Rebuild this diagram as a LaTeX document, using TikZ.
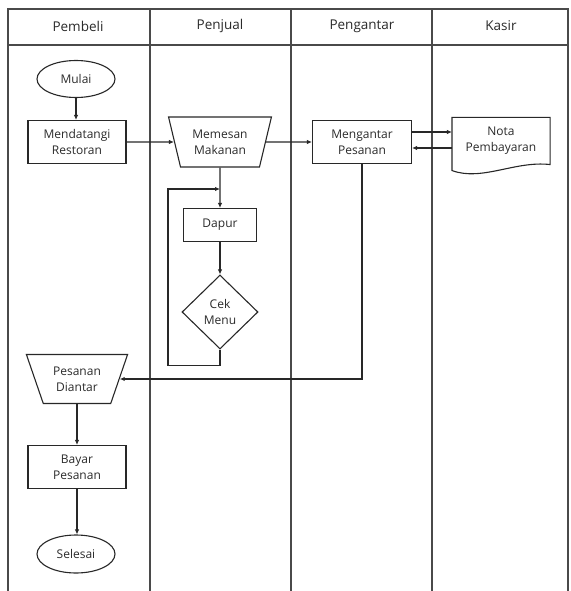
\documentclass[tikz,border=0pt]{standalone}
\usepackage{fontspec}
\setmainfont{Open Sans}
\usetikzlibrary{shapes.geometric,arrows.meta}
\definecolor{linec}{HTML}{282828}
\definecolor{lanec}{HTML}{4A4A4A}
\definecolor{textc}{HTML}{2A2A2A}
\begin{document}
\begin{tikzpicture}[x=1pt,y=-1pt,
  lane/.style={draw=lanec,line width=1.4pt},
  head/.style={font=\fontsize{13.5}{16}\selectfont,text=textc},
  box/.style={draw=linec,line width=1.1pt,align=center,text=textc,
    font=\fontsize{12}{16}\selectfont,inner sep=1pt},
  proc/.style={box,rectangle,minimum width=98pt,minimum height=43pt},
  term/.style={box,ellipse,minimum width=78pt,minimum height=37pt},
  manual/.style={box,trapezium,shape border rotate=180,trapezium stretches=true},
  arr/.style={draw=linec,line width=1.1pt,-{Latex[length=5pt,width=4.5pt]}}]
\useasboundingbox (0,0) rectangle (570,591);
% swimlanes
\draw[lane] (8,591) -- (8,9) -- (568,9) -- (568,591);
\draw[lane] (8,45) -- (568,45);
\draw[lane] (150,9) -- (150,591);
\draw[lane] (291,9) -- (291,591);
\draw[lane] (432,9) -- (432,591);
\node[head] (h1) at (78,26) {Pembeli};
\node[head] (h2) at (220,26) {Penjual};
\node[head] (h3) at (362,26) {Pengantar};
\node[head] (h4) at (501,26) {Kasir};
% nodes
\node[term] (mulai) at (76,79) {Mulai};
\node[proc] (mend) at (77,142) {Mendatangi\\Restoran};
\node[manual,minimum width=103pt,minimum height=50pt,trapezium left angle=72,trapezium right angle=72] (mem) at (220,142) {Memesan\\Makanan};
\node[proc,minimum width=99pt] (meng) at (362,142) {Mengantar\\Pesanan};
\node[box,draw=none,rectangle,minimum width=97pt,minimum height=46pt] (nota) at (501,141) {Nota\\Pembayaran};
\draw[linec,line width=1.1pt] (nota.north west) -- (nota.north east) -- (nota.south east)
  .. controls ([xshift=-35pt,yshift=4pt]nota.south east) and ([xshift=30pt,yshift=-17pt]nota.south west)
  .. ([yshift=-6pt]nota.south west) -- cycle;
\node[proc,minimum width=73pt,minimum height=33pt] (dapur) at (220,225) {Dapur};
\node[box,diamond,minimum width=76pt,minimum height=74pt,inner sep=0pt] (cek) at (220,312) {Cek\\Menu};
\node[manual,minimum width=102pt,minimum height=49pt,trapezium left angle=65,trapezium right angle=65] (pes) at (77,379) {Pesanan\\Diantar};
\node[proc] (bayar) at (77,467) {Bayar\\Pesanan};
\node[term,minimum height=38pt] (selesai) at (76,554) {Selesai};
\coordinate (lp) at (220,189);
% connectors
\draw[arr] (mulai.south) -- (mulai.south |- mend.north);
\draw[arr] (mend) -- (mem);
\draw[arr] (mem) -- (meng);
\draw[arr] ([yshift=10pt]meng.east) -- ([yshift=10pt]meng.east -| nota.west);
\draw[arr] ([yshift=-6pt]meng.east -| nota.west) -- ([yshift=-6pt]meng.east);
\draw[arr] (mem.south) -- (dapur.north);
\draw[arr] (dapur.south) -- (cek.north);
\draw[arr] (cek.south) -- ++(0,16) -| ([xshift=-52pt]lp) -- (lp);
\draw[arr] (meng.south) |- (pes.east);
\draw[arr] (pes.south) -- (pes.south |- bayar.north);
\draw[arr] (bayar.south) -- (bayar.south |- selesai.north);
\end{tikzpicture}
\end{document}
